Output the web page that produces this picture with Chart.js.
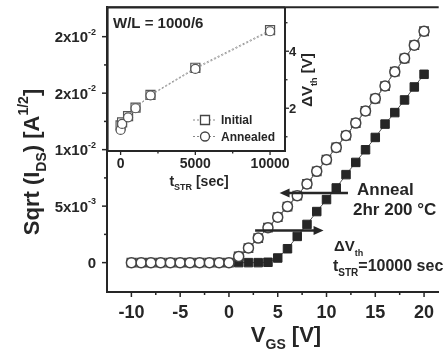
<!DOCTYPE html>
<html>
<head>
<meta charset="utf-8">
<script src="https://cdn.jsdelivr.net/npm/chart.js@4.4.0/dist/chart.umd.min.js"></script>
<style>
  html, body { margin: 0; padding: 0; background: #fff; }
  #wrap { position: relative; width: 446px; height: 352px; overflow: hidden; }
  #main { position: absolute; left: 0; top: 0; }
  #inset { position: absolute; left: 100px; top: 0; }
</style>
</head>
<body>
<div id="wrap">
  <canvas id="main" width="446" height="352"></canvas>
  <canvas id="inset" width="220" height="195"></canvas>
</div>
<script>
// main plot: VGS [V] vs sqrt(IDS) in units of 1e-3 A^1/2
const vgs = [-10, -9, -8, -7, -6, -5, -4, -3, -2, -1, 0, 1, 2, 3, 4, 5, 6, 7, 8, 9, 10, 11, 12, 13, 14, 15, 16, 17, 18, 19, 20];
const sqrtIdsInitial = [0, 0, 0, 0, 0, 0, 0, 0, 0, 0, 0, 0.55, 1.29, 2.17, 3.09, 4.02, 4.96, 5.93, 6.97, 8.08, 9.11, 10.2, 11.25, 12.35, 13.43, 14.52, 15.63, 16.9, 18.08, 19.25, 20.48];
const sqrtIdsAnnealed = [0, 0, 0, 0, 0, 0, 0, 0, 0, 0, 0, 0.55, 1.29, 2.17, 3.09, 4.02, 4.96, 5.93, 6.97, 8.08, 9.11, 10.2, 11.25, 12.35, 13.43, 14.52, 15.63, 16.9, 18.08, 19.25, 20.48];
const vgsStressed = [1, 2, 3, 4, 5, 6, 7, 8, 9, 10, 11, 12, 13, 14, 15, 16, 17, 18, 19, 20];
const sqrtIdsStressed = [0, 0, 0, 0.03, 0.41, 1.23, 2.32, 3.38, 4.52, 5.58, 6.61, 7.79, 8.87, 9.99, 11.08, 12.26, 13.28, 14.4, 15.55, 16.67];

const xTicksMain = [-10, -5, 0, 5, 10, 15, 20];
const xMinorMain = [-7.5, -2.5, 2.5, 7.5, 12.5, 17.5];
const yTicksMain = [0, 5, 10, 15, 20];
const yMinorMain = [2.5, 7.5, 12.5, 17.5];
const yTickMantissa = ['0', '5x10', '1x10', '2x10', '2x10'];
const yTickExponent = ['', '-3', '-2', '-2', '-2'];

// inset: stress time [sec] vs threshold shift [V]
const tStr = [0, 100, 500, 1000, 2000, 5000, 10000];
const dVthInitial = [1.40, 1.50, 1.72, 2.02, 2.47, 3.42, 4.74];
const dVthAnnealed = [1.24, 1.45, 1.68, 2.00, 2.45, 3.38, 4.70];
const xTicksInset = [0, 5000, 10000];
const xMinorInset = [2500, 7500];
const yTicksInset = [2, 4];
const yMinorInset = [1, 3, 5];

const INK = '#262626';
const FONT = '"Liberation Sans", Arial, sans-serif';

const pts = (xs, ys) => xs.map((x, i) => ({ x: x, y: ys[i] }));

// draws text made of normal / sub / sup pieces
function richText(ctx, parts, x, y, size, align) {
  let w = 0;
  const seg = parts.map(([t, k]) => {
    const s = k ? Math.round(size * 0.62) : size;
    ctx.font = `bold ${s}px ${FONT}`;
    const m = ctx.measureText(t).width;
    w += m;
    return { t, k, s, m };
  });
  let cx = align === 'center' ? x - w / 2 : align === 'right' ? x - w : x;
  ctx.textAlign = 'left';
  ctx.textBaseline = 'alphabetic';
  seg.forEach(p => {
    ctx.font = `bold ${p.s}px ${FONT}`;
    const dy = p.k === 'sub' ? size * 0.32 : p.k === 'sup' ? -size * 0.5 : 0;
    ctx.fillText(p.t, cx, y + dy);
    cx += p.m;
  });
}

function seg(ctx, x1, y1, x2, y2) {
  ctx.beginPath();
  ctx.moveTo(x1, y1);
  ctx.lineTo(x2, y2);
  ctx.stroke();
}

function arrow(ctx, x1, y, x2) {
  const dir = x2 > x1 ? 1 : -1;
  ctx.lineWidth = 2.5;
  seg(ctx, x1, y, x2 - dir * 6, y);
  ctx.beginPath();
  ctx.moveTo(x2, y);
  ctx.lineTo(x2 - dir * 10, y - 4.5);
  ctx.lineTo(x2 - dir * 10, y + 4.5);
  ctx.closePath();
  ctx.fill();
}

const mainDecor = {
  id: 'mainDecor',
  beforeDraw(chart) {
    const ctx = chart.ctx;
    ctx.save();
    ctx.fillStyle = '#fff';
    ctx.fillRect(0, 0, chart.width, chart.height);
    ctx.restore();
  },
  afterDraw(chart) {
    const { ctx, chartArea: a, scales: { x, y } } = chart;
    ctx.save();
    ctx.strokeStyle = INK;
    ctx.fillStyle = INK;
    ctx.lineWidth = 2;
    seg(ctx, a.left, a.top, a.right, a.top);

    ctx.lineWidth = 1.5;
    xTicksMain.forEach(v => seg(ctx, x.getPixelForValue(v), a.bottom, x.getPixelForValue(v), a.bottom + 5));
    xMinorMain.forEach(v => seg(ctx, x.getPixelForValue(v), a.bottom, x.getPixelForValue(v), a.bottom + 3));
    yTicksMain.forEach(v => seg(ctx, a.left, y.getPixelForValue(v), a.left - 5, y.getPixelForValue(v)));
    yMinorMain.forEach(v => seg(ctx, a.left, y.getPixelForValue(v), a.left - 3, y.getPixelForValue(v)));

    xTicksMain.forEach(v => richText(ctx, [[String(v)]], x.getPixelForValue(v), 318, 18, 'center'));
    yTicksMain.forEach((v, i) => {
      const parts = [[yTickMantissa[i]]];
      if (yTickExponent[i]) parts.push([yTickExponent[i], 'sup']);
      richText(ctx, parts, 96, y.getPixelForValue(v) + 5.5, 15, 'right');
    });

    // axis titles
    richText(ctx, [['V'], ['GS', 'sub'], [' [V]']], 286, 342, 22, 'center');
    ctx.save();
    ctx.translate(39, 162);
    ctx.rotate(-Math.PI / 2);
    richText(ctx, [['Sqrt (I'], ['DS', 'sub'], [') [A'], ['1/2', 'sup'], [']']], 0, 0, 22, 'center');
    ctx.restore();

    // annotations
    arrow(ctx, x.getPixelForValue(12.2), y.getPixelForValue(6.16), x.getPixelForValue(5.19));
    arrow(ctx, x.getPixelForValue(2.68), y.getPixelForValue(2.84), x.getPixelForValue(9.7));
    richText(ctx, [['Anneal']], 357, 195, 17, 'left');
    richText(ctx, [['2hr 200 \u00b0C']], 353, 215, 17, 'left');
    richText(ctx, [['\u0394V'], ['th', 'sub']], 334, 251, 15, 'left');
    richText(ctx, [['t'], ['STR', 'sub'], ['=10000 sec']], 333, 271, 16, 'left');
    ctx.restore();
  }
};

new Chart(document.getElementById('main'), {
  type: 'line',
  data: {
    datasets: [
      {
        label: 'Stressed',
        data: pts(vgsStressed, sqrtIdsStressed),
        order: 3,
        pointStyle: 'rect',
        pointRadius: 6,
        pointBackgroundColor: INK,
        pointBorderColor: INK,
        pointBorderWidth: 1,
        borderColor: '#555',
        borderWidth: 1
      },
      {
        label: 'Initial',
        data: pts(vgs, sqrtIdsInitial),
        order: 2,
        pointStyle: 'rect',
        pointRadius: 6,
        pointBackgroundColor: '#fff',
        pointBorderColor: '#444',
        pointBorderWidth: 1.3,
        borderColor: '#666',
        borderWidth: 1
      },
      {
        label: 'Annealed',
        data: pts(vgs, sqrtIdsAnnealed),
        order: 1,
        pointStyle: 'circle',
        pointRadius: 5,
        pointBackgroundColor: '#fff',
        pointBorderColor: '#444',
        pointBorderWidth: 1.5,
        borderColor: '#666',
        borderWidth: 1
      }
    ]
  },
  options: {
    responsive: false,
    animation: false,
    devicePixelRatio: 1,
    layout: { padding: { top: 5, left: 0, right: 0, bottom: 0 } },
    plugins: { legend: { display: false }, tooltip: { enabled: false } },
    scales: {
      x: {
        type: 'linear', min: -12.5, max: 21.5,
        grid: { display: false },
        ticks: { display: false },
        border: { display: true, color: INK, width: 2 },
        afterBuildTicks: s => { s.ticks = xTicksMain.map(v => ({ value: v })); },
        afterFit: s => { s.height = 60; s.paddingLeft = 0; s.paddingRight = 0; }
      },
      y: {
        type: 'linear', min: -2.6, max: 22.6,
        grid: { display: false },
        ticks: { display: false },
        border: { display: true, color: INK, width: 2 },
        afterBuildTicks: s => { s.ticks = yTicksMain.map(v => ({ value: v })); },
        afterFit: s => { s.width = 107; s.paddingTop = 0; s.paddingBottom = 0; }
      }
    }
  },
  plugins: [mainDecor]
});

const insetDecor = {
  id: 'insetDecor',
  beforeDraw(chart) {
    const { ctx, chartArea: a } = chart;
    ctx.save();
    ctx.fillStyle = '#fff';
    ctx.fillRect(a.left, a.top, a.right - a.left, a.bottom - a.top);
    ctx.restore();
  },
  afterDraw(chart) {
    const { ctx, chartArea: a, scales: { x, y } } = chart;
    ctx.save();
    ctx.strokeStyle = INK;
    ctx.fillStyle = INK;
    ctx.lineWidth = 2;
    seg(ctx, a.left, a.top, a.right, a.top);
    seg(ctx, a.left, a.top, a.left, a.bottom);

    ctx.lineWidth = 1.3;
    xTicksInset.forEach(v => seg(ctx, x.getPixelForValue(v), a.bottom, x.getPixelForValue(v), a.bottom + 4));
    xMinorInset.forEach(v => seg(ctx, x.getPixelForValue(v), a.bottom, x.getPixelForValue(v), a.bottom + 2.5));
    yTicksInset.forEach(v => seg(ctx, a.right, y.getPixelForValue(v), a.right + 4, y.getPixelForValue(v)));
    yMinorInset.forEach(v => seg(ctx, a.right, y.getPixelForValue(v), a.right + 2.5, y.getPixelForValue(v)));

    xTicksInset.forEach(v => richText(ctx, [[String(v)]], x.getPixelForValue(v), 168, 14, 'center'));
    yTicksInset.forEach(v => richText(ctx, [[String(v)]], a.right + 4, y.getPixelForValue(v) + 5, 13, 'left'));

    richText(ctx, [['t'], ['STR', 'sub'], [' [sec]']], 99, 186, 14, 'center');
    ctx.save();
    ctx.translate(212, 80);
    ctx.rotate(-Math.PI / 2);
    richText(ctx, [['\u0394V'], ['th', 'sub'], [' [V]']], 0, 0, 15, 'center');
    ctx.restore();

    richText(ctx, [['W/L = 1000/6']], 13, 28, 15, 'left');

    // legend
    chart.data.datasets.forEach((ds, i) => {
      const ly = 120 + i * 16.5;
      ctx.strokeStyle = '#888';
      ctx.lineWidth = 1;
      ctx.setLineDash([2, 2]);
      seg(ctx, 93, ly, 117, ly);
      ctx.setLineDash([]);
      ctx.strokeStyle = '#444';
      ctx.lineWidth = 1.3;
      ctx.fillStyle = '#fff';
      ctx.beginPath();
      if (ds.pointStyle === 'rect') {
        ctx.rect(100.5, ly - 4.5, 9, 9);
      } else {
        ctx.arc(105, ly, 4.5, 0, Math.PI * 2);
      }
      ctx.fill();
      ctx.stroke();
      ctx.fillStyle = INK;
      richText(ctx, [[ds.label]], 121, ly + 4.3, 12, 'left');
    });
    ctx.restore();
  }
};

new Chart(document.getElementById('inset'), {
  type: 'line',
  data: {
    datasets: [
      {
        label: 'Initial',
        data: pts(tStr, dVthInitial),
        order: 2,
        pointStyle: 'rect',
        pointRadius: 6.4,
        pointBackgroundColor: '#fff',
        pointBorderColor: '#555',
        pointBorderWidth: 1.2,
        borderColor: '#999',
        borderWidth: 1,
        borderDash: [2, 2]
      },
      {
        label: 'Annealed',
        data: pts(tStr, dVthAnnealed),
        order: 1,
        pointStyle: 'circle',
        pointRadius: 4.5,
        pointBackgroundColor: '#fff',
        pointBorderColor: '#555',
        pointBorderWidth: 1.2,
        borderColor: '#999',
        borderWidth: 1,
        borderDash: [2, 2]
      }
    ]
  },
  options: {
    responsive: false,
    animation: false,
    devicePixelRatio: 1,
    layout: { padding: { top: 5, left: 7, right: 0, bottom: 0 } },
    plugins: { legend: { display: false }, tooltip: { enabled: false } },
    scales: {
      x: {
        type: 'linear', min: -870, max: 11000,
        grid: { display: false },
        ticks: { display: false },
        border: { display: true, color: INK, width: 2 },
        afterBuildTicks: s => { s.ticks = xTicksInset.map(v => ({ value: v })); },
        afterFit: s => { s.height = 44; s.paddingLeft = 0; s.paddingRight = 0; }
      },
      y: {
        type: 'linear', position: 'right', min: 0.5, max: 5.53,
        grid: { display: false },
        ticks: { display: false },
        border: { display: true, color: INK, width: 2 },
        afterBuildTicks: s => { s.ticks = yTicksInset.map(v => ({ value: v })); },
        afterFit: s => { s.width = 35; s.paddingTop = 0; s.paddingBottom = 0; }
      }
    }
  },
  plugins: [insetDecor]
});
</script>
</body>
</html>
